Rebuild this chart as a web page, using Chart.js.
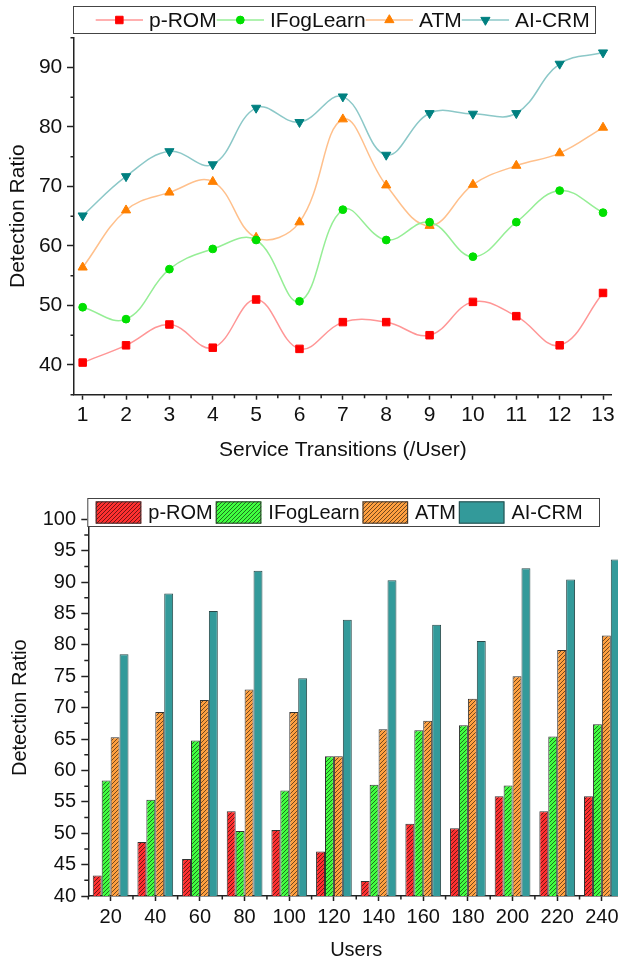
<!DOCTYPE html>
<html>
<head>
<meta charset="utf-8">
<script src="https://cdn.jsdelivr.net/npm/chart.js@4.4.1/dist/chart.umd.min.js"></script>
<style>
html,body{margin:0;padding:0;overflow:hidden;background:#fff;width:618px;height:964px;}
#c1{position:absolute;left:0;top:0;}
#c2{position:absolute;left:0;top:480px;}
</style>
</head>
<body>
<canvas id="c1" width="618" height="470"></canvas>
<canvas id="c2" width="640" height="484"></canvas>
<script>
const FONT = '"Liberation Sans", Arial, Helvetica, sans-serif';

// ---------- Top chart data ----------
const seriesNames = ['p-ROM', 'IFogLearn', 'ATM', 'AI-CRM'];
const transitions = [1, 2, 3, 4, 5, 6, 7, 8, 9, 10, 11, 12, 13];
const topYTicks = [40, 50, 60, 70, 80, 90];
const topYMinor = [35, 45, 55, 65, 75, 85, 95];
const topXMinor = [1.5, 2.5, 3.5, 4.5, 5.5, 6.5, 7.5, 8.5, 9.5, 10.5, 11.5, 12.5];
const pROM_T   = [40.4, 43.3, 46.8, 42.9, 51.0, 42.7, 47.2, 47.2, 45.0, 50.6, 48.2, 43.3, 52.1];
const iFog_T   = [49.7, 47.7, 56.1, 59.5, 61.0, 50.7, 66.1, 61.0, 64.0, 58.2, 64.0, 69.3, 65.6];
const atm_T    = [56.4, 66.0, 69.0, 70.8, 61.4, 64.0, 81.3, 70.2, 63.4, 70.3, 73.5, 75.6, 79.9];
const aicrm_T  = [65.1, 71.7, 75.9, 73.7, 83.2, 80.8, 85.1, 75.3, 82.3, 82.2, 82.3, 90.6, 92.5];

// ---------- Bottom chart data ----------
const users = ['20', '40', '60', '80', '100', '120', '140', '160', '180', '200', '220', '240'];
const botYTicks = [40, 45, 50, 55, 60, 65, 70, 75, 80, 85, 90, 95, 100];
const botYMinor = [42.5, 47.5, 52.5, 57.5, 62.5, 67.5, 72.5, 77.5, 82.5, 87.5, 92.5, 97.5];
const pROM_U  = [43.25, 48.6, 45.9, 53.5, 50.5, 47.1, 42.4, 51.5, 50.8, 55.9, 53.5, 55.9];
const iFog_U  = [58.4, 55.35, 64.75, 50.35, 56.8, 62.25, 57.7, 66.4, 67.2, 57.6, 65.4, 67.35];
const atm_U   = [65.3, 69.3, 71.2, 72.9, 69.3, 62.25, 66.55, 67.9, 71.4, 75.0, 79.2, 81.5];
const aicrm_U = [78.5, 88.2, 85.4, 91.8, 74.7, 84.0, 90.3, 83.2, 80.6, 92.2, 90.4, 93.6];

// ---------- helpers ----------
function pts(xs, ys) { return xs.map((x, i) => ({x: x, y: ys[i]})); }

function hatch(base, lineColor) {
  const s = 4;
  const c = document.createElement('canvas');
  c.width = s; c.height = s;
  const g = c.getContext('2d');
  g.fillStyle = base; g.fillRect(0, 0, s, s);
  g.strokeStyle = lineColor; g.lineWidth = 1;
  g.beginPath();
  g.moveTo(-1, s + 1); g.lineTo(s + 1, -1);
  g.moveTo(-1, 1); g.lineTo(1, -1);
  g.moveTo(s - 1, s + 1); g.lineTo(s + 1, s - 1);
  g.stroke();
  return g.createPattern(c, 'repeat');
}

function drawMarker(ctx, style, x, y, r, color) {
  ctx.save();
  ctx.fillStyle = color; ctx.strokeStyle = color; ctx.lineWidth = 1;
  ctx.beginPath();
  if (style === 'rect') {
    const h = r * Math.SQRT1_2;
    ctx.rect(x - h, y - h, 2 * h, 2 * h);
  } else if (style === 'circle') {
    ctx.arc(x, y, r, 0, Math.PI * 2);
  } else if (style === 'triangle' || style === 'triangleDown') {
    const d = style === 'triangle' ? 1 : -1;
    const w = r * Math.sin(Math.PI / 3);
    ctx.moveTo(x, y - d * r);
    ctx.lineTo(x + w, y + d * r / 2);
    ctx.lineTo(x - w, y + d * r / 2);
    ctx.closePath();
  }
  ctx.fill(); ctx.stroke();
  ctx.restore();
}

const minorTicksPlugin = {
  id: 'minorTicks',
  afterDraw(chart, args, o) {
    const ctx = chart.ctx, ca = chart.chartArea;
    ctx.save();
    ctx.strokeStyle = o.color; ctx.lineWidth = o.width;
    ctx.beginPath();
    const ys = chart.scales.y, xs = chart.scales.x;
    (o.y || []).forEach(v => {
      const p = ys.getPixelForValue(v);
      ctx.moveTo(ca.left - o.yLen, p); ctx.lineTo(ca.left, p);
    });
    let xp = [];
    if (o.xBoundaries) {
      const n = chart.data.labels.length;
      const band = xs.getPixelForValue(1) - xs.getPixelForValue(0);
      for (let i = 0; i <= n; i++) xp.push(xs.getPixelForValue(0) - band / 2 + i * band);
    } else {
      xp = (o.x || []).map(v => xs.getPixelForValue(v));
    }
    xp.forEach(p => { ctx.moveTo(p, ca.bottom); ctx.lineTo(p, ca.bottom + o.xLen); });
    ctx.stroke();
    ctx.restore();
  }
};

const boxLegendPlugin = {
  id: 'boxLegend',
  afterDraw(chart, args, o) {
    const ctx = chart.ctx;
    ctx.save();
    ctx.fillStyle = '#fff';
    ctx.fillRect(o.x, o.y, o.w, o.h);
    ctx.strokeStyle = o.borderColor; ctx.lineWidth = 1;
    ctx.strokeRect(o.x + 0.5, o.y + 0.5, o.w, o.h);
    ctx.font = o.fontSize + 'px ' + FONT;
    ctx.textBaseline = 'middle'; ctx.textAlign = 'left';
    const cy = o.y + o.h / 2 + 0.5;
    let x = o.startX;
    chart.data.datasets.forEach(ds => {
      if (o.kind === 'line') {
        ctx.strokeStyle = ds.borderColor; ctx.lineWidth = ds.borderWidth;
        ctx.beginPath(); ctx.moveTo(x, cy); ctx.lineTo(x + o.symW, cy); ctx.stroke();
        drawMarker(ctx, ds.legendMarker, x + o.symW / 2, cy, ds.pointRadius, ds.pointBackgroundColor);
      } else {
        ctx.fillStyle = ds.backgroundColor;
        ctx.fillRect(x, cy - o.swH / 2, o.symW, o.swH);
        ctx.strokeStyle = ds.borderColor; ctx.lineWidth = 1;
        ctx.strokeRect(x + 0.5, cy - o.swH / 2 + 0.5, o.symW - 1, o.swH - 1);
      }
      x += o.symW + o.gap1;
      ctx.fillStyle = '#111';
      ctx.fillText(ds.label, x, cy + 1);
      x += ctx.measureText(ds.label).width + o.gap2;
    });
    ctx.restore();
  }
};

const AX = '#222';

// ---------- Top chart ----------
function lineDs(label, data, lineColor, markColor, style, radius, rot) {
  return {
    label: label, data: pts(transitions, data),
    borderColor: lineColor, borderWidth: 1.5, tension: 0.4,
    pointStyle: style, pointRotation: rot || 0, pointRadius: radius,
    pointBackgroundColor: markColor, pointBorderColor: markColor, pointBorderWidth: 1,
    legendMarker: rot ? 'triangleDown' : style,
    fill: false
  };
}

new Chart(document.getElementById('c1'), {
  type: 'line',
  data: {
    datasets: [
      lineDs(seriesNames[0], pROM_T, 'rgb(255,150,150)', '#ff0000', 'rect', 5.3),
      lineDs(seriesNames[1], iFog_T, 'rgb(150,238,150)', '#00e000', 'circle', 3.9),
      lineDs(seriesNames[2], atm_T, 'rgb(255,192,140)', '#ff8000', 'triangle', 5.3),
      lineDs(seriesNames[3], aicrm_T, 'rgb(140,200,200)', '#008080', 'triangle', 5.3, 180)
    ]
  },
  plugins: [minorTicksPlugin, boxLegendPlugin],
  options: {
    responsive: false, animation: false, devicePixelRatio: 1,
    layout: {padding: {left: 0, right: 3, top: 37.7, bottom: 0}},
    plugins: {
      legend: {display: false}, tooltip: {enabled: false},
      minorTicks: {color: AX, width: 1.5, y: topYMinor, yLen: 3.5, x: topXMinor, xLen: 3.5},
      boxLegend: {kind: 'line', x: 73, y: 6, w: 522, h: 27, borderColor: '#444', fontSize: 21,
                  startX: 95.7, symW: 47.3, gap1: 6, gap2: 0}
    },
    scales: {
      x: {
        type: 'linear', min: 0.8, max: 13.2,
        afterBuildTicks: s => { s.ticks = transitions.map(v => ({value: v})); },
        afterFit: s => { s.height = 75.3; s.paddingLeft = 0; s.paddingRight = 0; },
        grid: {display: true, drawOnChartArea: false, drawTicks: true, tickLength: 5, tickColor: AX, tickWidth: 1.5},
        border: {display: true, color: AX, width: 1.5},
        ticks: {color: '#111', font: {family: FONT, size: 21}, padding: 2.7, maxRotation: 0, autoSkip: false,
                callback: v => String(v)},
        title: {display: true, text: 'Service Transitions (/User)', color: '#111',
                font: {family: FONT, size: 21}, padding: {top: 0, bottom: 7.4}}
      },
      y: {
        type: 'linear', min: 35, max: 95,
        afterBuildTicks: s => { s.ticks = topYTicks.map(v => ({value: v})); },
        afterFit: s => { s.width = 74; s.paddingTop = 0; s.paddingBottom = 0; },
        grid: {display: true, drawOnChartArea: false, drawTicks: true, tickLength: 7, tickColor: AX, tickWidth: 1.5},
        border: {display: true, color: AX, width: 1.5},
        ticks: {color: '#111', font: {family: FONT, size: 21}, padding: 4.7, callback: v => String(v)},
        title: {display: true, text: 'Detection Ratio', color: '#111',
                font: {family: FONT, size: 21}, padding: {top: 6, bottom: 0}}
      }
    }
  }
});

// ---------- Bottom chart ----------
const HL = 'rgba(0,0,0,0.55)';
new Chart(document.getElementById('c2'), {
  type: 'bar',
  data: {
    labels: users,
    datasets: [
      {label: seriesNames[0], data: pROM_U, backgroundColor: hatch('#ff3030', HL), borderColor: '#333', borderWidth: 1},
      {label: seriesNames[1], data: iFog_U, backgroundColor: hatch('#40ff40', HL), borderColor: '#333', borderWidth: 1},
      {label: seriesNames[2], data: atm_U, backgroundColor: hatch('#ffa040', HL), borderColor: '#333', borderWidth: 1},
      {label: seriesNames[3], data: aicrm_U, backgroundColor: '#339a9a', borderColor: '#2a4a4a', borderWidth: 1}
    ]
  },
  plugins: [minorTicksPlugin, boxLegendPlugin],
  options: {
    responsive: false, animation: false, devicePixelRatio: 1,
    layout: {padding: {left: 0, right: 15.8, top: 39.3, bottom: 0}},
    datasets: {bar: {categoryPercentage: 0.8, barPercentage: 1.0}},
    plugins: {
      legend: {display: false}, tooltip: {enabled: false},
      minorTicks: {color: AX, width: 1.5, y: botYMinor, yLen: 4, xBoundaries: true, xLen: 3.5},
      boxLegend: {kind: 'bar', x: 87.3, y: 18, w: 511.7, h: 28, borderColor: '#444', fontSize: 20,
                  startX: 95.7, symW: 45.6, swH: 22.3, gap1: 7, gap2: 3}
    },
    scales: {
      x: {
        type: 'category', offset: true,
        afterFit: s => { s.height = 68; s.paddingLeft = 0; s.paddingRight = 0; },
        grid: {display: true, offset: false, drawOnChartArea: false, drawTicks: true, tickLength: 5, tickColor: AX, tickWidth: 1.5},
        border: {display: true, color: AX, width: 1.5},
        ticks: {color: '#111', font: {family: FONT, size: 20}, padding: 4.8, maxRotation: 0, autoSkip: false},
        title: {display: true, text: 'Users', color: '#111',
                font: {family: FONT, size: 20}, padding: {top: 0, bottom: 2}}
      },
      y: {
        type: 'linear', min: 40, max: 100,
        afterBuildTicks: s => { s.ticks = botYTicks.map(v => ({value: v})); },
        afterFit: s => { s.width = 88.3; s.paddingTop = 0; s.paddingBottom = 0; },
        grid: {display: true, drawOnChartArea: false, drawTicks: true, tickLength: 7, tickColor: AX, tickWidth: 1.5},
        border: {display: true, color: AX, width: 1.5},
        ticks: {color: '#111', font: {family: FONT, size: 20}, padding: 5.3, callback: v => String(v)},
        title: {display: true, text: 'Detection Ratio', color: '#111',
                font: {family: FONT, size: 20}, padding: {top: 8, bottom: 0}}
      }
    }
  }
});
</script>
</body>
</html>
